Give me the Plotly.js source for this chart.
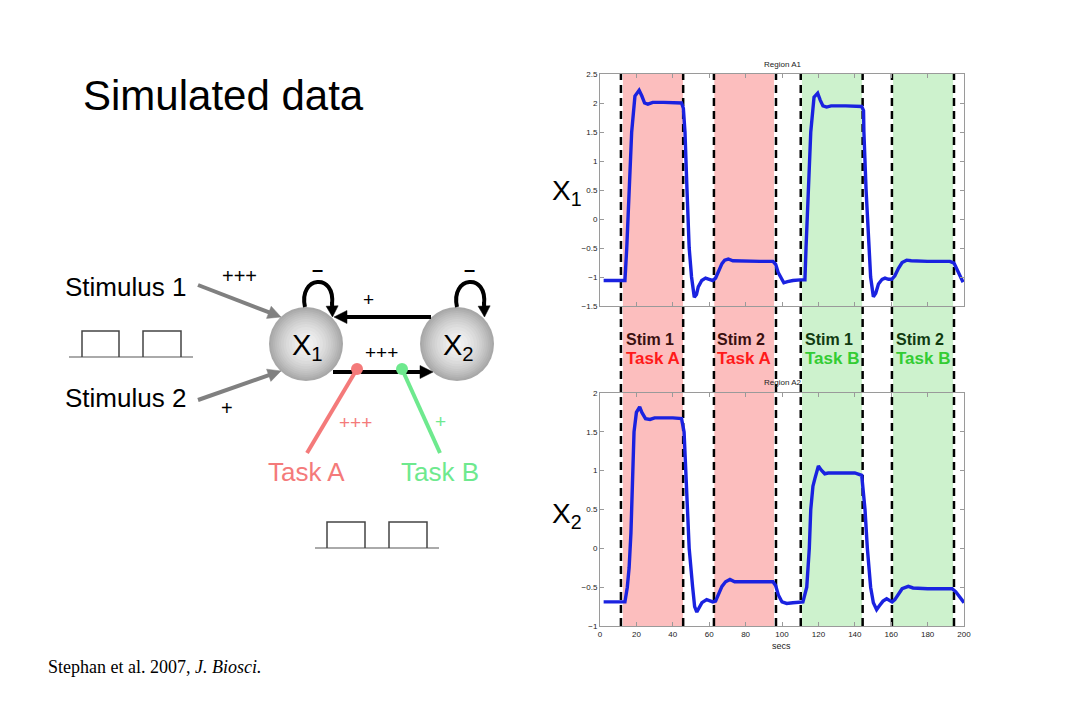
<!DOCTYPE html>
<html>
<head>
<meta charset="utf-8">
<script src="https://cdn.plot.ly/plotly-3.0.1.min.js"></script>
<style>html,body{margin:0;padding:0;background:#fff;}#chart{width:1080px;height:720px;}</style>
</head>
<body>
<div id="chart"></div>
<script>
// ---- data: Region A1 (x1) ----
const timeA1 = [2,13.7,14.7,16.1,17.4,19.2,21.5,23,24.5,26.3,29,35,40,44.8,45.8,46.7,47.8,49,50.3,51.8,53,54,55.9,58,60,61.9,63.5,65,67,68.5,70.5,73,80,88,95,96.5,98,99.5,101,103,106,110,112.6,113.2,114.4,115.8,117.6,119.6,121,122.5,124.5,127,135,142,143.8,144.8,145,146.2,147.6,148.7,150.2,151.5,153,155,156.6,158.5,160.3,162,164,166,168.5,171,180,190,192.3,194.5,196,198,199.5];
const valueA1 = [-1.06,-1.06,-0.5,0.5,1.5,2.12,2.22,2.12,2.0,1.98,2.01,2.01,2.0,2.0,1.91,1.5,0.5,-0.5,-1.0,-1.35,-1.3,-1.17,-1.06,-1.02,-1.04,-1.06,-1.02,-0.9,-0.77,-0.71,-0.69,-0.72,-0.73,-0.73,-0.73,-0.78,-0.93,-1.03,-1.1,-1.08,-1.06,-1.05,-1.05,-0.5,0.5,1.5,2.1,2.17,2.05,1.95,1.93,1.95,1.95,1.95,1.94,1.87,1.5,0.5,-0.5,-1.0,-1.34,-1.28,-1.12,-1.04,-1.02,-1.04,-1.04,-0.98,-0.85,-0.75,-0.71,-0.72,-0.73,-0.73,-0.73,-0.76,-0.85,-1.0,-1.09];
// ---- data: Region A2 (x2) ----
const timeA2 = [2,13.7,15,16,17,18,18.7,20,21.8,23,25,27.5,30,40,44.8,46.2,47.2,48.2,49,50.9,52,53.2,54.5,56,58.6,60.5,62,63.5,65,67,69,71.4,74,80,90,95,96.5,98,100,102.6,106,110,111.5,113.6,115,115.8,117,118.1,120,121.5,123.5,125.4,130,140,143.8,145.6,146.9,148.7,150.2,152,153.5,155.5,157.5,159,160.5,162,164,166,169.4,172,180,190,193.5,195.5,197.5,200];
const valueA2 = [-0.69,-0.69,-0.5,-0.25,0.2,1.0,1.5,1.75,1.82,1.75,1.67,1.66,1.68,1.68,1.67,1.5,1.0,0.5,0.0,-0.5,-0.75,-0.82,-0.77,-0.7,-0.66,-0.68,-0.69,-0.68,-0.6,-0.49,-0.43,-0.4,-0.43,-0.43,-0.43,-0.43,-0.48,-0.6,-0.69,-0.71,-0.7,-0.69,-0.69,-0.5,0.0,0.5,0.8,0.9,1.06,1.01,0.96,0.97,0.97,0.97,0.94,0.5,0.0,-0.5,-0.7,-0.79,-0.74,-0.68,-0.65,-0.67,-0.69,-0.66,-0.58,-0.52,-0.49,-0.51,-0.52,-0.52,-0.52,-0.56,-0.63,-0.7];
// ---- events / blocks ----
const blockStart = [12.6, 62.8, 111.0, 161.0];
const blockEnd = [45.6, 95.6, 144.0, 194.0];
const eventTimes = [11.5, 45.7, 62.6, 96.7, 110.3, 144.3, 160.4, 194.5];
const stimNames = ['Stim 1', 'Stim 2', 'Stim 1', 'Stim 2'];
const taskNames = ['Task A', 'Task A', 'Task B', 'Task B'];
const taskKinds = ['A', 'A', 'B', 'B'];
// ---- axis ticks ----
const xTicks = [0,20,40,60,80,100,120,140,160,180,200];
const yTicksA1 = [-1.5,-1,-0.5,0,0.5,1,1.5,2,2.5];
const yTicksA2 = [-1,-0.5,0,0.5,1,1.5,2];

// ---- styling ----
const W = 1080, H = 720;
const pyTop = v => 1 - v / H;
const shadeCol = {A: 'rgba(252,190,190,1)', B: 'rgba(205,242,205,1)'};
const stimCol = {A: '#3a1010', B: '#103a10'};
const taskCol = {A: '#ff1a1a', B: '#33cc33'};
const pink = '#f47a7a', mint = '#6ee98e';
const F = 'Arial, "Liberation Sans", Helvetica, sans-serif';

const axisBase = {
  showline: true, mirror: 'ticks', linecolor: '#9a9a9a', linewidth: 1,
  ticks: 'inside', ticklen: 4, tickcolor: '#9a9a9a', showgrid: false, zeroline: false,
  tickfont: {family: F, size: 8, color: '#222'}, fixedrange: true
};

const traces = [
  {x: timeA1, y: valueA1, xaxis: 'x', yaxis: 'y', mode: 'lines', line: {color: '#1a22e0', width: 3.4}, hoverinfo: 'skip'},
  {x: timeA2, y: valueA2, xaxis: 'x2', yaxis: 'y2', mode: 'lines', line: {color: '#1a22e0', width: 3.4}, hoverinfo: 'skip'},
  {x: [], y: [], xaxis: 'x3', yaxis: 'y3', mode: 'lines', hoverinfo: 'skip'}
];

const plotTopY = pyTop(74), plotBotY = pyTop(626);
const shapes = [];
const annotations = [];

// block shading (spans both panels)
blockStart.forEach((s, i) => {
  shapes.push({type: 'rect', xref: 'x', yref: 'paper', x0: s, x1: blockEnd[i], y0: plotBotY, y1: plotTopY,
    fillcolor: shadeCol[taskKinds[i]], line: {width: 0}, layer: 'below'});
  annotations.push({xref: 'x', yref: 'paper', x: s, y: pyTop(339), xanchor: 'left', yanchor: 'middle', xshift: 1,
    text: '<b>' + stimNames[i] + '</b>', showarrow: false, font: {family: F, size: 16, color: stimCol[taskKinds[i]]}});
  annotations.push({xref: 'x', yref: 'paper', x: s, y: pyTop(358), xanchor: 'left', yanchor: 'middle', xshift: 1,
    text: '<b>' + taskNames[i] + '</b>', showarrow: false, font: {family: F, size: 17, color: taskCol[taskKinds[i]]}});
});
// dashed event lines
eventTimes.forEach(t => {
  shapes.push({type: 'line', xref: 'x', yref: 'paper', x0: t, x1: t, y0: plotBotY, y1: pyTop(73),
    line: {color: '#000', width: 2.5, dash: '8px,5px'}, layer: 'below'});
});

// ---- diagram (pixel coords on overlay axes x3/y3) ----
const P = (o) => Object.assign({xref: 'x3', yref: 'y3'}, o);
// pulse trains
function pulses(baseY, x0, x1, p) {
  shapes.push(P({type: 'line', x0: x0, x1: x1, y0: baseY, y1: baseY, line: {color: '#aaaaaa', width: 2}}));
  p.forEach(q => {
    shapes.push(P({type: 'path', path: `M ${q[0]},${baseY} L ${q[0]},${q[2]} L ${q[1]},${q[2]} L ${q[1]},${baseY}`, line: {color: '#444', width: 1.5}}));
  });
}
pulses(357, 69, 193, [[82, 119, 331], [143, 181, 331]]);
pulses(548, 315, 439, [[327, 365, 522], [389, 427, 522]]);

// circles with radial gradient approximation
function node(cx, cy) {
  const rings = [[37, '#a8a8a8'], [35, '#afafaf'], [33, '#b6b6b6'], [31, '#bdbdbd'], [29, '#c3c3c3'], [27, '#c9c9c9'], [25, '#cfcfcf'], [22.5, '#d5d5d5'], [20, '#dbdbdb'], [17, '#e1e1e1'], [14, '#e6e6e6'], [11, '#ebebeb'], [7.5, '#efefef'], [4, '#f3f3f3']];
  rings.forEach(r => shapes.push(P({type: 'circle', x0: cx - r[0], x1: cx + r[0], y0: cy - r[0], y1: cy + r[0], fillcolor: r[1], line: {width: 0}})));
}
node(306, 344);
node(457, 344);

// arrows drawn as a shaft and a filled head
function arrow(tx, ty, hx, hy, col, w, L, hw) {
  const dx = hx - tx, dy = hy - ty, d = Math.hypot(dx, dy), ux = dx / d, uy = dy / d;
  const bx = hx - ux * L, by = hy - uy * L;
  if (d > L) shapes.push(P({type: 'line', x0: tx, y0: ty, x1: bx + ux * 1, y1: by + uy * 1, line: {color: col, width: w}}));
  const px = -uy * hw, py = ux * hw;
  shapes.push(P({type: 'path', path: `M ${hx},${hy} L ${bx + px},${by + py} L ${bx - px},${by - py} Z`, fillcolor: col, line: {color: col, width: 0.5}}));
}

// self loops
shapes.push(P({type: 'path', path: 'M 305,307 C 298,276 336,272 332,305', line: {color: '#000', width: 4}}));
shapes.push(P({type: 'path', path: 'M 457,307 C 450,276 488,272 484,305', line: {color: '#000', width: 4}}));
arrow(332, 302, 332.5, 317, '#000', 4, 11, 6);
arrow(484, 302, 484.5, 317, '#000', 4, 11, 6);

arrow(198, 285, 281, 317, '#808080', 4, 13, 6.5);
arrow(198, 400, 281, 371, '#808080', 4, 13, 6.5);
arrow(431, 317, 334, 317, '#000', 4, 13, 6.5);
arrow(333, 372, 433, 372, '#000', 4, 13, 6.5);

// task lines and dots
shapes.push(P({type: 'line', x0: 307, y0: 453, x1: 357, y1: 369, line: {color: pink, width: 4}}));
shapes.push(P({type: 'line', x0: 440, y0: 453, x1: 402, y1: 369, line: {color: mint, width: 4}}));
shapes.push(P({type: 'circle', x0: 351, x1: 363, y0: 363, y1: 375, fillcolor: pink, line: {width: 0}}));
shapes.push(P({type: 'circle', x0: 396, x1: 408, y0: 363, y1: 375, fillcolor: mint, line: {width: 0}}));

function txt(x, y, s, size, col, extra) {
  annotations.push(Object.assign({xref: 'x3', yref: 'y3', x: x, y: y, text: s, showarrow: false,
    xanchor: 'center', yanchor: 'middle', font: {family: F, size: size, color: col}}, extra || {}));
}
txt(81, 95, 'Simulated data', 42, '#000', {xanchor: 'left'});
txt(63, 287, 'Stimulus 1', 26, '#000', {xanchor: 'left'});
txt(63, 398, 'Stimulus 2', 26, '#000', {xanchor: 'left'});
txt(239, 276, '+++', 20, '#000');
txt(227, 408, '+', 20, '#000');
txt(317, 269, '<b>–</b>', 20, '#000');
txt(469, 269, '<b>–</b>', 20, '#000');
txt(368, 299, '+', 19, '#000');
txt(381, 352, '+++', 19, '#000');
txt(355, 422, '+++', 19, pink);
txt(440, 421, '+', 19, mint);
txt(306, 472, 'Task A', 26, pink);
txt(440, 472, 'Task B', 26, mint);
txt(307, 347, 'X<sub>1</sub>', 29, '#000');
txt(458, 347, 'X<sub>2</sub>', 29, '#000');
txt(550, 192, 'X<sub>1</sub>', 28, '#000', {xanchor: 'left'});
txt(550, 515, 'X<sub>2</sub>', 28, '#000', {xanchor: 'left'});
txt(46, 667, 'Stephan et al. 2007, <i>J. Biosci.</i>', 18, '#000', {xanchor: 'left', font: {family: '"Liberation Serif", "Times New Roman", serif', size: 18, color: '#000'}});
txt(782, 64, 'Region A1', 8, '#222');
txt(782, 382, 'Region A2', 8, '#222');
txt(781, 646, 'secs', 9, '#222');

const layout = {
  width: W, height: H,
  margin: {l: 0, r: 0, t: 0, b: 0},
  paper_bgcolor: '#fff', plot_bgcolor: 'rgba(0,0,0,0)',
  showlegend: false, hovermode: false,
  xaxis: Object.assign({}, axisBase, {domain: [600 / W, 964 / W], range: [0, 200], tickvals: xTicks, showticklabels: false, anchor: 'y'}),
  yaxis: Object.assign({}, axisBase, {domain: [pyTop(306), pyTop(74)], range: [-1.5, 2.5], tickvals: yTicksA1, anchor: 'x'}),
  xaxis2: Object.assign({}, axisBase, {domain: [600 / W, 964 / W], range: [0, 200], tickvals: xTicks, anchor: 'y2'}),
  yaxis2: Object.assign({}, axisBase, {domain: [pyTop(626), pyTop(393)], range: [-1, 2], tickvals: yTicksA2, anchor: 'x2'}),
  xaxis3: {domain: [0, 1], range: [0, W], visible: false, anchor: 'y3', fixedrange: true},
  yaxis3: {domain: [0, 1], range: [H, 0], visible: false, anchor: 'x3', fixedrange: true},
  shapes: shapes,
  annotations: annotations
};

Plotly.newPlot('chart', traces, layout, {staticPlot: true, displayModeBar: false});
</script>
</body>
</html>
